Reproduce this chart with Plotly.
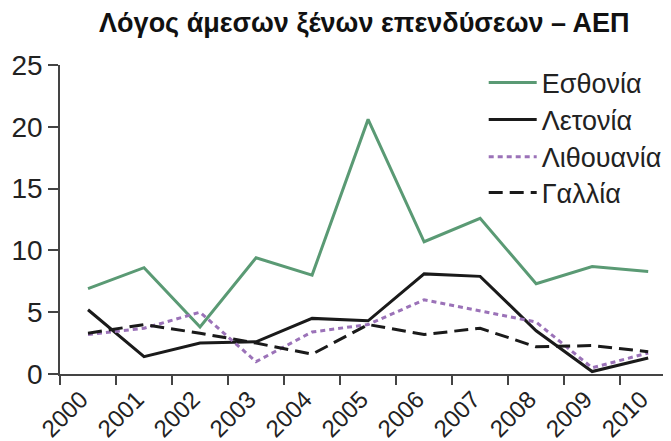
import plotly.graph_objects as go

years = ["2000", "2001", "2002", "2003", "2004", "2005", "2006", "2007", "2008", "2009", "2010"]
estonia = [6.9, 8.6, 3.8, 9.4, 8.0, 20.6, 10.7, 12.6, 7.3, 8.7, 8.3]
latvia = [5.2, 1.4, 2.5, 2.6, 4.5, 4.3, 8.1, 7.9, 3.5, 0.2, 1.3]
lithuania = [3.2, 3.7, 5.0, 1.0, 3.4, 4.0, 6.0, 5.1, 4.2, 0.5, 1.7]
france = [3.3, 4.0, 3.3, 2.5, 1.6, 4.0, 3.2, 3.7, 2.2, 2.3, 1.8]

series_names = ["Εσθονία", "Λετονία", "Λιθουανία", "Γαλλία"]
title_text = "Λόγος άμεσων ξένων επενδύσεων – ΑΕΠ"

fig = go.Figure()
styles = [
    (estonia, dict(color="#5a9a74", width=3, dash="solid")),
    (latvia, dict(color="#1a1a1a", width=3, dash="solid")),
    (lithuania, dict(color="#9b72b8", width=3, dash="5px,4px")),
    (france, dict(color="#1a1a1a", width=3, dash="14px,7px")),
]
legend_ids = ["legend", "legend2", "legend3", "legend4"]
for (vals, line), name, lg in zip(styles, series_names, legend_ids):
    fig.add_trace(go.Scatter(x=years, y=vals, mode="lines", name=name, line=line, legend=lg))

font_family = "Liberation Sans, Arial, sans-serif"
legend_y = [0.9417, 0.822, 0.702, 0.586]
legend_common = dict(x=0.6845, xanchor="left", yanchor="middle", bgcolor="rgba(0,0,0,0)",
                     font=dict(size=27, color="#222222"), itemwidth=48, borderwidth=0)
layout_legends = {lg: dict(y=yy, **legend_common) for lg, yy in zip(legend_ids, legend_y)}

fig.update_layout(
    width=671, height=441,
    margin=dict(l=52, r=0, t=57, b=75, autoexpand=False),
    paper_bgcolor="white", plot_bgcolor="white",
    font=dict(family=font_family, color="#222222", size=26),
    title=dict(text="<b>" + title_text + "</b>", x=0.531, xanchor="center",
               y=0.968, yanchor="middle", font=dict(size=27, color="#111111")),
    showlegend=True,
    **layout_legends,
)
fig.update_xaxes(
    type="category", range=[-0.5, 10.55], showgrid=False, zeroline=False, automargin=False,
    showline=True, linecolor="#444444", linewidth=1.5,
    ticks="outside", ticklen=9, tickcolor="#444444", tickwidth=1.5,
    tickson="boundaries", tickangle=-45, tickfont=dict(size=24), ticklabelshift=-7,
)
fig.update_yaxes(
    range=[0, 25], tickvals=[0, 5, 10, 15, 20, 25], showgrid=False, zeroline=False, automargin=False,
    showline=True, linecolor="#444444", linewidth=1.5,
    ticks="outside", ticklen=10, tickcolor="#444444", tickwidth=1.5,
    tickfont=dict(size=28),
)
fig.write_html("out.html")
